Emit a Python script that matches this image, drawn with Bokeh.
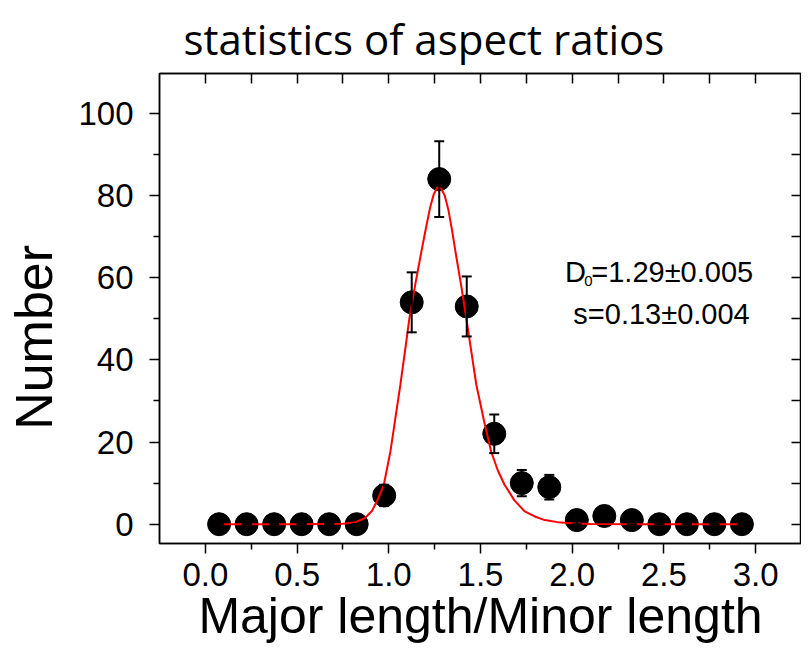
import math
from bokeh.plotting import figure
from bokeh.models import (ColumnDataSource, Whisker, TeeHead, LinearAxis, FixedTicker,
                          NumeralTickFormatter, Label, Range1d)
from bokeh.embed import file_html
from bokeh.resources import INLINE

# ---- data ----
x_centers = [0.075, 0.225, 0.375, 0.525, 0.675, 0.825, 0.975, 1.125, 1.275, 1.425,
             1.575, 1.725, 1.875, 2.025, 2.175, 2.325, 2.475, 2.625, 2.775, 2.925]
counts = [0, 0, 0, 0, 0, 0, 7, 54, 84, 53, 22, 10, 9, 1, 2, 1, 0, 0, 0, 0]
errors = [0, 0, 0, 0, 0, 0, 2.6, 7.3, 9.2, 7.3, 4.7, 3.2, 3.0, 1.0, 1.4, 1.0, 0, 0, 0, 0]

fit_x = [0.075, 0.50, 0.75, 0.82, 0.87, 0.908, 0.94, 0.973, 1.009, 1.035, 1.063, 1.088,
         1.112, 1.145, 1.177, 1.20, 1.225, 1.245, 1.265, 1.285, 1.305, 1.325, 1.345,
         1.364, 1.395, 1.423, 1.45, 1.477, 1.52, 1.558, 1.595, 1.631, 1.685, 1.739,
         1.80, 1.85, 1.92, 2.0, 2.1, 2.4, 2.925]
fit_y = [0, 0, 0.1, 0.5, 1.5, 3.2, 6.0, 9.6, 17.7, 25.5, 33.9, 42.0,
         50.0, 58.5, 66.2, 71.5, 77.0, 80.3, 82.0, 81.7, 80.0, 76.5, 71.5,
         66.2, 58.0, 50.0, 42.0, 34.0, 25.0, 17.7, 13.0, 9.6, 5.8, 3.2,
         1.8, 1.0, 0.5, 0.2, 0.05, 0, 0]

x_major_ticks = [0.0, 0.5, 1.0, 1.5, 2.0, 2.5, 3.0]
x_minor_ticks = [0.25, 0.75, 1.25, 1.75, 2.25, 2.75]
x_top_ticks = [0.0, 0.25, 0.5, 0.75, 1.0, 1.25, 1.5, 1.75, 2.0, 2.25, 2.5, 2.75, 3.0]
y_major_ticks = [0, 20, 40, 60, 80, 100]
y_minor_ticks = [10, 30, 50, 70, 90]
y_right_ticks = [0, 10, 20, 30, 40, 50, 60, 70, 80, 90, 100]

title_text = "statistics of aspect ratios"
x_label_text = "Major length/Minor length"
y_label_text = "Number"
fit_line1_main = "D"
fit_line1_sub = "0"
fit_line1_rest = "=1.29\u00b10.005"
fit_line2 = "s=0.13\u00b10.004"

# ---- figure ----
p = figure(width=801, height=649, output_backend="svg", toolbar_location=None,
           x_range=Range1d(-0.25, 3.25), y_range=Range1d(-4.7, 109.7),
           min_border_left=159, min_border_right=0, min_border_top=71, min_border_bottom=106,
           title=title_text)
p.xaxis.visible = False
p.yaxis.visible = False
p.xgrid.visible = False
p.ygrid.visible = False
p.background_fill_color = "white"
p.border_fill_color = "white"
p.outline_line_color = "black"
p.outline_line_width = 1.5

p.title.text_font = "Open Sans"
p.title.text_font_size = "42px"
p.title.text_font_style = "normal"
p.title.text_color = "black"
p.title.align = "left"
p.title.offset = 24
p.title.standoff = 14

TICK_FONT = "Liberation Sans"
LABEL_FONT = "Liberation Sans"

# trailing no-break spaces move the (centred) rotated label down, as in the reference
bottom = LinearAxis(ticker=FixedTicker(ticks=x_major_ticks, minor_ticks=x_minor_ticks),
                    formatter=NumeralTickFormatter(format="0.0"),
                    axis_label=x_label_text)
left = LinearAxis(ticker=FixedTicker(ticks=y_major_ticks, minor_ticks=y_minor_ticks),
                  formatter=NumeralTickFormatter(format="0"),
                  axis_label=y_label_text + "\u00a0" * 4)
for ax in (bottom, left):
    ax.axis_line_color = "black"
    ax.axis_line_width = 1.5
    ax.major_tick_line_color = "black"
    ax.major_tick_line_width = 1.5
    ax.minor_tick_line_color = "black"
    ax.minor_tick_line_width = 1.5
    ax.major_tick_in = 0
    ax.major_tick_out = 10
    ax.minor_tick_in = 0
    ax.minor_tick_out = 6
    ax.major_label_text_font = TICK_FONT
    ax.major_label_text_font_size = "33px"
    ax.major_label_text_color = "black"
    ax.axis_label_text_font = LABEL_FONT
    ax.axis_label_text_font_style = "normal"
    ax.axis_label_text_color = "black"
bottom.axis_label_text_font_size = "50px"
left.axis_label_text_font_size = "52px"
bottom.major_label_standoff = 9
bottom.axis_label_standoff = -1
left.major_label_standoff = 16
left.axis_label_standoff = 12
p.add_layout(bottom, "below")
p.add_layout(left, "left")

top = LinearAxis(ticker=FixedTicker(ticks=x_top_ticks))
right = LinearAxis(ticker=FixedTicker(ticks=y_right_ticks))
for ax in (top, right):
    ax.axis_line_color = "black"
    ax.axis_line_width = 1.5
    ax.major_tick_line_color = "black"
    ax.major_tick_line_width = 1.5
    ax.major_tick_in = 10
    ax.major_tick_out = 0
    ax.minor_tick_line_color = None
    ax.minor_tick_in = 0
    ax.minor_tick_out = 0
    ax.major_label_text_font_size = "0px"
    ax.major_label_text_color = None
    ax.major_label_standoff = 0
p.add_layout(top, "above")
p.add_layout(right, "right")

# ---- data glyphs ----
src = ColumnDataSource(dict(
    x=x_centers, y=counts,
    upper=[c + e for c, e in zip(counts, errors)],
    lower=[c - e for c, e in zip(counts, errors)],
))
p.scatter("x", "y", source=src, size=23, fill_color="black", line_color="black")

wh = Whisker(source=src, base="x", upper="upper", lower="lower",
             line_color="black", line_width=2, level="glyph",
             upper_head=TeeHead(size=10, line_width=2, line_color="black"),
             lower_head=TeeHead(size=10, line_width=2, line_color="black"))
p.add_layout(wh)

p.line(fit_x, fit_y, line_color="red", line_width=2)

# ---- fit annotation ----
p.add_layout(Label(x=1.960, y=61.5, text=fit_line1_main, text_align="left",
                   text_baseline="alphabetic", text_font=LABEL_FONT,
                   text_font_size="29px", text_color="black"))
p.add_layout(Label(x=2.066, y=59.2, text=fit_line1_sub, text_align="left",
                   text_baseline="alphabetic", text_font=LABEL_FONT,
                   text_font_size="15px", text_color="black"))
p.add_layout(Label(x=2.104, y=61.5, text=fit_line1_rest, text_align="left",
                   text_baseline="alphabetic", text_font=LABEL_FONT,
                   text_font_size="29px", text_color="black"))
p.add_layout(Label(x=2.487, y=51.1, text=fit_line2, text_align="center",
                   text_baseline="alphabetic", text_font=LABEL_FONT,
                   text_font_size="29px", text_color="black"))

open("out.html", "w").write(file_html(p, INLINE))
